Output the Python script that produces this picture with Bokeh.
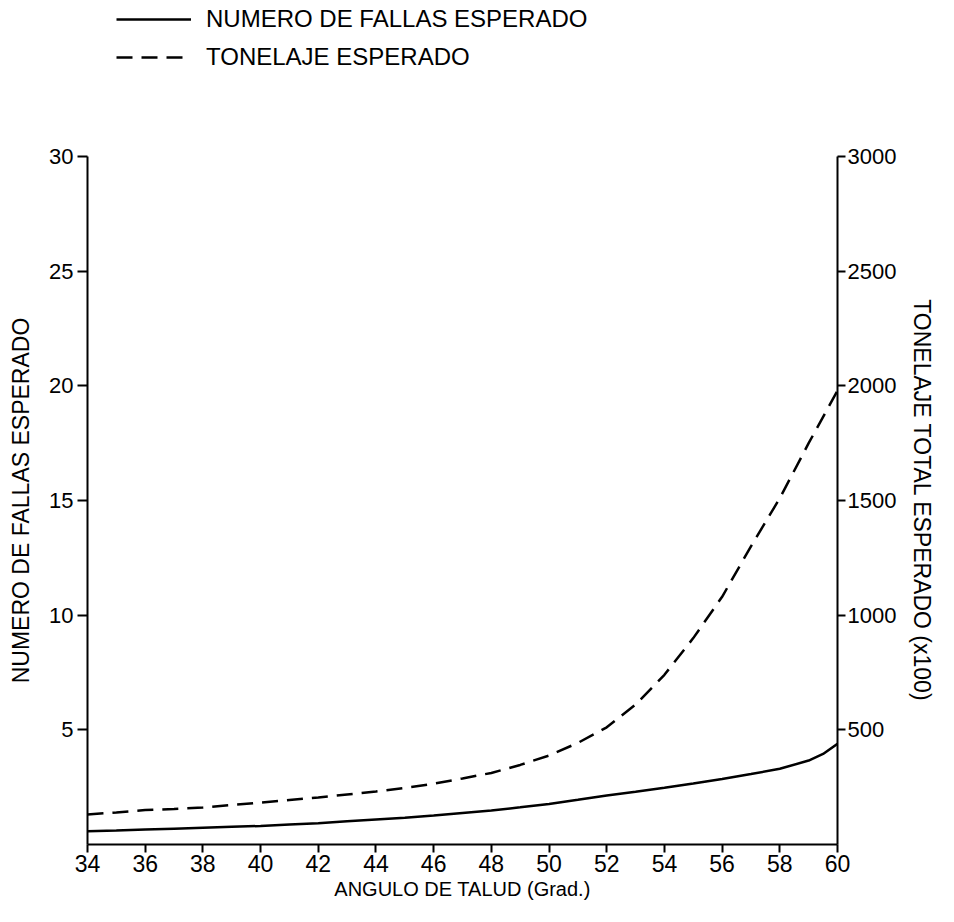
from bokeh.plotting import figure
from bokeh.layouts import column
from bokeh.models import Range1d, LinearAxis, FixedTicker, Legend, LegendItem
from bokeh.embed import file_html
from bokeh.resources import INLINE

angulo = [34, 35, 36, 37, 38, 39, 40, 41, 42, 43, 44, 45, 46, 47, 48, 49, 50,
          51, 52, 53, 54, 55, 56, 57, 58, 59, 59.5, 60]
fallas = [0.58, 0.61, 0.65, 0.69, 0.73, 0.77, 0.81, 0.87, 0.93, 1.01, 1.09, 1.17,
          1.26, 1.37, 1.48, 1.62, 1.77, 1.95, 2.14, 2.30, 2.47, 2.66, 2.86, 3.07,
          3.30, 3.66, 3.95, 4.39]
angulo_t = [34, 35, 36, 37, 38, 39, 40, 41, 42, 43, 44, 45, 46, 47, 48, 49, 50,
            51, 52, 53, 54, 55, 56, 57, 58, 59, 60]
tonelaje = [131, 140, 150, 155, 161, 172, 183, 194, 205, 218, 231, 247, 265, 288,
            312, 347, 388, 443, 511, 610, 740, 900, 1080, 1300, 1510, 1750, 1979]

x_ticks = list(range(34, 61, 2))
y_ticks = [5, 10, 15, 20, 25, 30]
y2_ticks = [500, 1000, 1500, 2000, 2500, 3000]

FONT = "Liberation Sans"
DASH = "16 9"

# ---- legend strip (sample lines sit outside its visible range) ----
lg = figure(width=938, height=92, output_backend="svg", toolbar_location=None,
            x_range=Range1d(0, 1), y_range=Range1d(0, 1),
            min_border_left=0, min_border_right=0, min_border_top=0,
            min_border_bottom=0, x_axis_location=None, y_axis_location=None)
lg.outline_line_color = None
lg.grid.visible = False
s1 = lg.line(x=[5, 6], y=[5, 6], line_color="black", line_width=2.5)
s2 = lg.line(x=[5, 6], y=[5, 6], line_color="black", line_width=2.5, line_dash=DASH)
legend = Legend(items=[LegendItem(label="NUMERO DE FALLAS ESPERADO", renderers=[s1]),
                       LegendItem(label="TONELAJE ESPERADO", renderers=[s2])],
                location=(29, 21), glyph_width=75, glyph_height=26, label_height=26,
                label_standoff=15, spacing=10, padding=0, margin=0,
                border_line_color=None, background_fill_alpha=0,
                label_text_font=FONT, label_text_font_size="24px",
                label_text_color="black")
lg.add_layout(legend, "center")

# ---- main chart ----
p = figure(width=938, height=814, output_backend="svg", toolbar_location=None,
           x_range=Range1d(34, 60), y_range=Range1d(0, 30),
           min_border_left=87, min_border_right=100, min_border_top=64,
           min_border_bottom=62, y_axis_location=None, x_axis_location=None)
p.outline_line_color = None
p.grid.visible = False
p.extra_y_ranges = {"ton": Range1d(0, 3000)}

xa = LinearAxis(ticker=FixedTicker(ticks=x_ticks), axis_label="ANGULO DE TALUD (Grad.)")
ya = LinearAxis(ticker=FixedTicker(ticks=y_ticks), axis_label="NUMERO DE FALLAS ESPERADO")
ya2 = LinearAxis(ticker=FixedTicker(ticks=y2_ticks), y_range_name="ton",
                 axis_label="TONELAJE TOTAL ESPERADO (x100)")
for ax in (xa, ya, ya2):
    ax.axis_line_width = 2
    ax.axis_line_color = "black"
    ax.major_tick_line_width = 2
    ax.major_tick_line_color = "black"
    ax.major_tick_in = 0
    ax.minor_tick_line_color = None
    ax.major_label_text_color = "black"
    ax.axis_label_text_color = "black"
    ax.axis_label_text_font_style = "normal"
    ax.axis_label_text_font = FONT
    ax.axis_label_text_font_size = "23px"
    ax.major_label_text_font = FONT
    ax.major_label_text_font_size = "22px"

xa.major_tick_out = 8
xa.major_label_text_font_size = "23px"
xa.major_label_standoff = 2
xa.axis_label_text_font_size = "20px"
xa.axis_label_standoff = 3

ya.major_tick_out = 10
ya.major_label_standoff = 4
ya.axis_label_standoff = 12

ya2.major_tick_out = 8
ya2.major_label_standoff = 2
ya2.axis_label_standoff = 10

p.add_layout(xa, "below")
p.add_layout(ya, "left")
p.add_layout(ya2, "right")

p.line(angulo, fallas, line_color="black", line_width=2.5)
p.line(angulo_t, tonelaje, y_range_name="ton", line_color="black",
       line_width=2.5, line_dash=DASH)

layout = column(lg, p, spacing=0)
open("out.html", "w").write(file_html(layout, INLINE))
